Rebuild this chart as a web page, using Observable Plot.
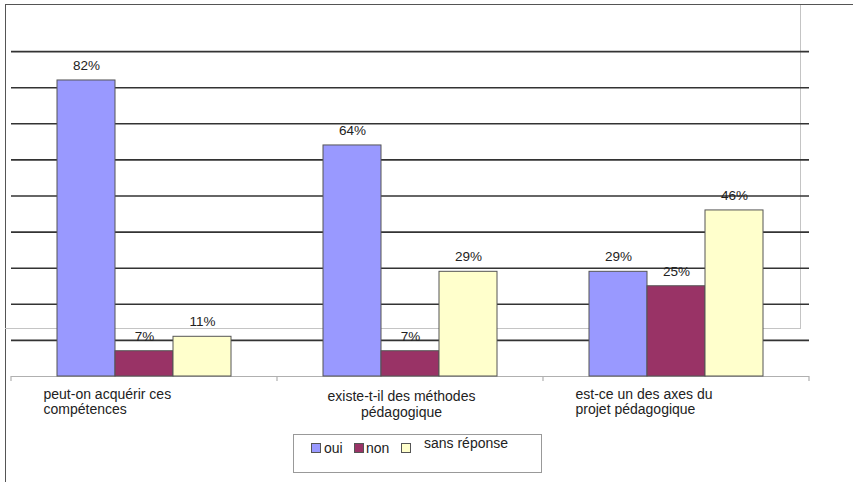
<!DOCTYPE html>
<html><head><meta charset="utf-8">
<script src="https://cdn.jsdelivr.net/npm/d3@7"></script>
<script src="https://cdn.jsdelivr.net/npm/@observablehq/plot@0.6"></script>
<style>
body{margin:0;background:#fff;font-family:"Liberation Sans",Arial,sans-serif;}
#wrap{position:relative;width:853px;height:482px;overflow:hidden;background:#fff;}
#outer{position:absolute;left:5px;top:4px;width:900px;height:500px;border-left:1.5px solid #555;border-top:1.5px solid #555;}
#inner{position:absolute;left:5px;top:5px;width:795px;height:323px;border-right:1.5px solid #c4c4c4;border-bottom:1.5px solid #c4c4c4;}
#chart{position:absolute;left:0;top:0;}
#legend{position:absolute;left:293px;top:434px;width:247px;height:37px;border:1px solid #999;background:#fff;font-size:14px;color:#222;}
#legend .sw{position:absolute;width:8px;height:8px;border:1px solid #555;}
#legend .lb{position:absolute;white-space:nowrap;line-height:14px;}
</style></head>
<body>
<div id="wrap">
  <div id="outer"></div>
  <div id="inner"></div>
  <div id="chart"></div>
  <div id="legend"></div>
</div>
<script>
const categories = ["peut-on acquérir ces compétences", "existe-t-il des méthodes pédagogique", "est-ce un des axes du projet pédagogique"];
const categoryLabels = ["peut-on acquérir ces\ncompétences", "existe-t-il des méthodes\npédagogique", "est-ce un des axes du\nprojet pédagogique"];
const series = ["oui", "non", "sans réponse"];
const oui = [82, 64, 29];
const non = [7, 7, 25];
const sansReponse = [11, 29, 46];
const colors = ["#9999ff", "#993366", "#ffffcc"];
const gridTicks = [10, 20, 30, 40, 50, 60, 70, 80, 90];

const values = [oui, non, sansReponse];
const data = [];
categories.forEach((c, i) => series.forEach((s, j) => data.push({cat: c, serie: s, value: values[j][i]})));
const labelRows = categories.map((c, i) => ({cat: c, label: categoryLabels[i]}));

const plot = Plot.plot({
  width: 853,
  height: 482,
  marginTop: 15,
  marginBottom: 106,
  marginLeft: 10,
  marginRight: 43,
  style: {background: "transparent", fontFamily: "'Liberation Sans', Arial, sans-serif", fontSize: "13px", color: "#222"},
  fx: {domain: categories, padding: 0, axis: null},
  x: {domain: series, paddingInner: 0, paddingOuter: 0.78, axis: null},
  y: {domain: [0, 100], axis: null},
  color: {domain: series, range: colors},
  marks: [
    Plot.ruleY(gridTicks, {stroke: "#333", strokeWidth: 1.6}),
    Plot.ruleY([0], {stroke: "#b0b0b0", strokeWidth: 1.2}),
    Plot.barY(data, {fx: "cat", x: "serie", y: "value", fill: "serie", stroke: "#555", strokeWidth: 1}),
    Plot.text(data, {fx: "cat", x: "serie", y: "value", text: d => d.value + "%", dy: -15, fontSize: 13.5, fill: "#222"}),
    Plot.text(labelRows.filter((d, i) => i !== 1), {fx: "cat", text: "label", frameAnchor: "bottom-left", textAnchor: "start", lineAnchor: "top", dx: 32, dy: 12, lineHeight: 1.05, fontSize: 14, fill: "#222"}),
    Plot.text(labelRows.filter((d, i) => i === 1), {fx: "cat", text: "label", frameAnchor: "bottom", textAnchor: "middle", lineAnchor: "top", dx: -9, dy: 13, lineHeight: 1.15, fontSize: 14, fill: "#222"})
  ]
});

// category boundary ticks on the baseline
const fxs = plot.scale("fx");
const ys = plot.scale("y");
const y0 = ys.apply(0);
const bw = fxs.bandwidth != null ? fxs.bandwidth : (fxs.range[1] - fxs.range[0]) / categories.length;
const edges = categories.map(c => fxs.apply(c));
edges.push(fxs.apply(categories[categories.length - 1]) + bw);
const svg = d3.select(plot);
svg.append("g").selectAll("line").data(edges).join("line")
  .attr("x1", d => d).attr("x2", d => d)
  .attr("y1", y0).attr("y2", y0 + 5)
  .attr("stroke", "#b0b0b0").attr("stroke-width", 1.2);

document.getElementById("chart").appendChild(plot);

// legend
const leg = document.getElementById("legend");
const items = [
  {sx: 17, tx: 30, ty: 6},
  {sx: 60, tx: 72, ty: 6},
  {sx: 107, tx: 130, ty: 1}
];
series.forEach((s, i) => {
  const sw = document.createElement("div");
  sw.className = "sw";
  sw.style.left = items[i].sx + "px";
  sw.style.top = "8px";
  sw.style.background = colors[i];
  leg.appendChild(sw);
  const lb = document.createElement("div");
  lb.className = "lb";
  lb.style.left = items[i].tx + "px";
  lb.style.top = items[i].ty + "px";
  lb.textContent = s;
  leg.appendChild(lb);
});
</script>
</body></html>
